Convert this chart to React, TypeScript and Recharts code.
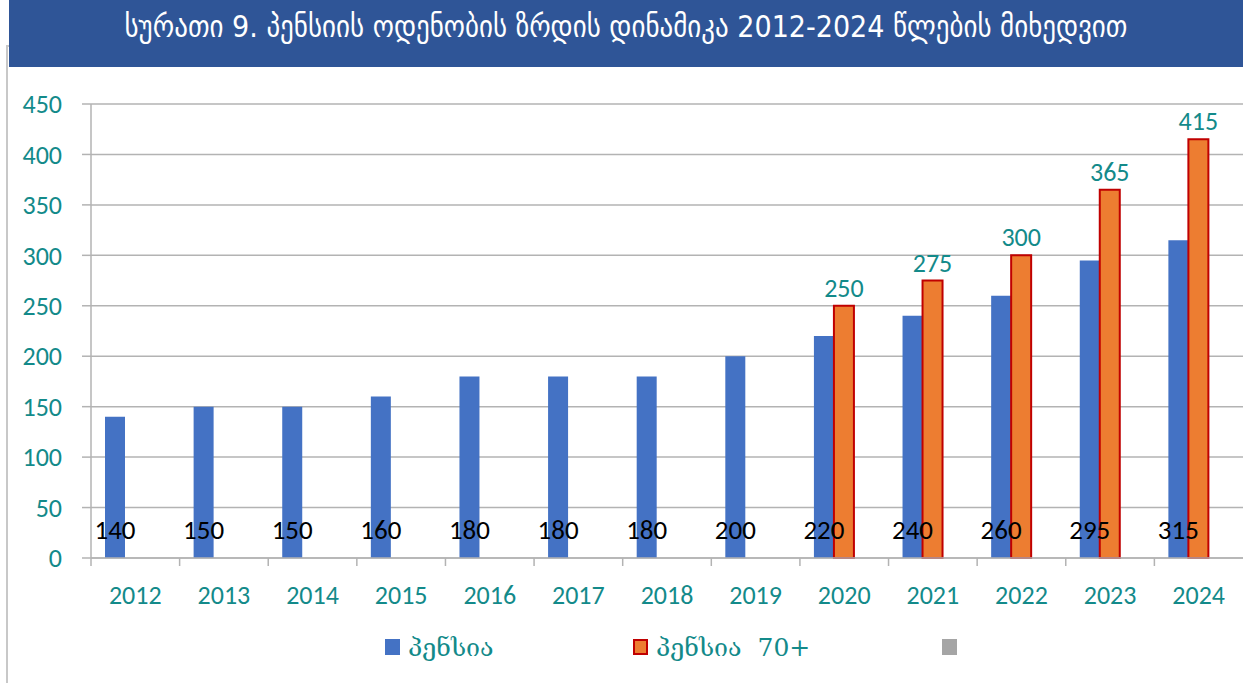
import React from "react";
import { BarChart, Bar, XAxis, YAxis, CartesianGrid, Legend, LabelList } from "recharts";

const years = ["2012", "2013", "2014", "2015", "2016", "2017", "2018", "2019", "2020", "2021", "2022", "2023", "2024"];
const pension = [140, 150, 150, 160, 180, 180, 180, 200, 220, 240, 260, 295, 315];
const pension70 = [null, null, null, null, null, null, null, null, 250, 275, 300, 365, 415];
const extra = [null, null, null, null, null, null, null, null, null, null, null, null, null];
const yTicks = [0, 50, 100, 150, 200, 250, 300, 350, 400, 450];

const TITLE = "სურათი 9. პენსიის ოდენობის ზრდის დინამიკა 2012-2024 წლების მიხედვით";
const S1 = "პენსია";
const S2 = "პენსია  70+";

const BLUE = "#4472c4";
const ORANGE = "#ed7d31";
const RED = "#c00000";
const GRAY = "#a5a5a5";
const TEAL = "#138a8a";
const GRID = "#b3b3b3";
const NUM_FONT = "Calibri, Carlito, 'Open Sans', sans-serif";
const GEO_FONT = "Sylfaen, 'DejaVu Serif', serif";

const data = years.map((y, i) => ({
  year: y,
  pension: pension[i],
  pension70: pension70[i],
  extra: extra[i],
}));

function XTick(props: any) {
  const { x, y, payload } = props;
  const half = payload?.offset || 44.3;
  return (
    <g>
      <line x1={x - half} x2={x - half} y1={y} y2={y + 8} stroke={GRID} strokeWidth={1.5} />
      <text x={x} y={y + 46} textAnchor="middle" fill={TEAL} fontSize={26} fontFamily={NUM_FONT}>
        {payload.value}
      </text>
    </g>
  );
}

function BlueLabel(props: any) {
  const { x, y, width, height, value } = props;
  if (value == null) return null;
  return (
    <text x={x + width / 2} y={y + height - 19} textAnchor="middle" fill="#000" fontSize={27} fontFamily={NUM_FONT}>
      {value}
    </text>
  );
}

function OrangeLabel(props: any) {
  const { x, y, width, value } = props;
  if (value == null) return null;
  return (
    <text x={x + width / 2} y={y - 9} textAnchor="middle" fill={TEAL} fontSize={26} fontFamily={NUM_FONT}>
      {value}
    </text>
  );
}

function ChartLegend() {
  const items = [
    { label: S1, fill: BLUE, stroke: "none", w: 248 },
    { label: S2, fill: ORANGE, stroke: RED, w: 309 },
    { label: "", fill: GRAY, stroke: "none", w: 40 },
  ];
  return (
    <div style={{ height: 55, display: "flex", alignItems: "flex-start", paddingLeft: 385, paddingTop: 4, boxSizing: "border-box" }}>
      {items.map((it, i) => (
        <div key={i} style={{ width: it.w, height: 30, display: "flex", alignItems: "center", gap: 8 }}>
          <span
            style={{
              display: "inline-block",
              width: 15,
              height: 16,
              background: it.fill,
              boxSizing: "border-box",
              border: it.stroke === "none" ? "none" : `2px solid ${it.stroke}`,
            }}
          />
          <span style={{ color: TEAL, fontSize: 25, fontFamily: GEO_FONT, whiteSpace: "pre" }}>{it.label}</span>
        </div>
      ))}
    </div>
  );
}

export default function App() {
  return (
    <div style={{ position: "absolute", left: 0, top: 0, width: 1243, height: 683, background: "#fff", overflow: "hidden" }}>
      <div
        style={{
          position: "absolute",
          left: 6,
          top: 45,
          width: 1300,
          height: 700,
          borderLeft: "2px solid #c8c8c8",
          borderTop: "2px solid #c8c8c8",
        }}
      />
      <div
        style={{
          position: "absolute",
          left: 9,
          top: 0,
          width: 1234,
          height: 67,
          background: "#2f5597",
          color: "#fff",
          fontFamily: "'DejaVu Sans Condensed', 'DejaVu Sans', sans-serif",
          fontSize: 30,
          textAlign: "center",
          lineHeight: "54px",
          zIndex: 2,
        }}
      >
        {TITLE}
      </div>
      <div style={{ position: "absolute", left: 0, top: 0 }}>
        <BarChart
          width={1243}
          height={683}
          data={data}
          margin={{ top: 104, right: 0, left: 0, bottom: 0 }}
          barGap={0}
          barSize={20}
        >
          <CartesianGrid vertical={false} stroke={GRID} strokeWidth={1.5} />
          <XAxis
            dataKey="year"
            height={70}
            axisLine={{ stroke: GRID, strokeWidth: 1.5 }}
            tickLine={false}
            tickSize={0}
            tickMargin={0}
            tick={<XTick />}
            interval={0}
          />
          <YAxis
            width={91}
            domain={[0, 450]}
            ticks={yTicks}
            interval={0}
            axisLine={{ stroke: GRID, strokeWidth: 1.5 }}
            tickLine={{ stroke: GRID, strokeWidth: 1.5 }}
            tickSize={9}
            tickMargin={20}
            tick={{ fill: TEAL, fontSize: 26, fontFamily: NUM_FONT }}
          />
          <Legend verticalAlign="bottom" height={55} content={<ChartLegend />} />
          <Bar dataKey="pension" name={S1} fill={BLUE} isAnimationActive={false}>
            <LabelList dataKey="pension" content={<BlueLabel />} />
          </Bar>
          <Bar dataKey="pension70" name={S2} fill={ORANGE} stroke={RED} strokeWidth={2} isAnimationActive={false}>
            <LabelList dataKey="pension70" content={<OrangeLabel />} />
          </Bar>
          <Bar dataKey="extra" name="" fill={GRAY} isAnimationActive={false} />
        </BarChart>
      </div>
    </div>
  );
}
